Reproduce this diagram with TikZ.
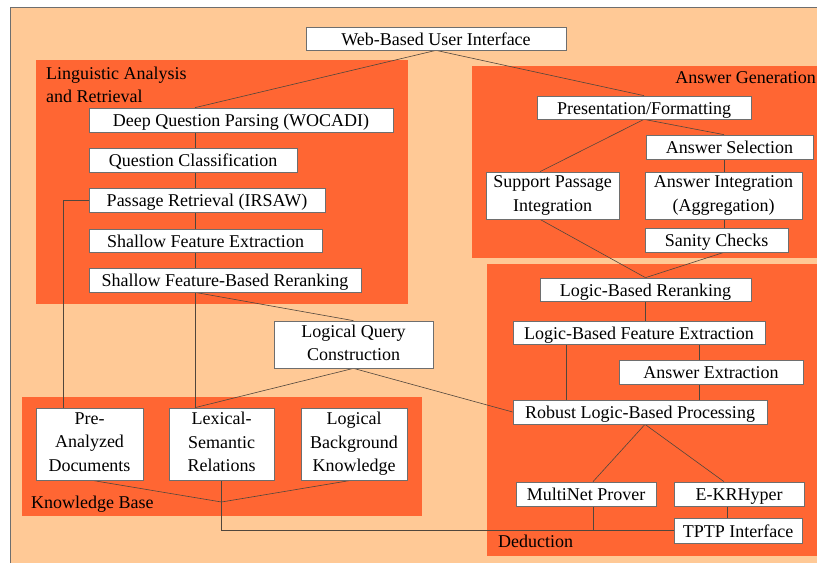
\documentclass[tikz,border=0pt]{standalone}
\usepackage{fontspec}
\setmainfont{Liberation Serif}
\usetikzlibrary{calc}
\definecolor{peach}{RGB}{255,201,150}
\definecolor{orng}{RGB}{255,102,51}
\definecolor{edgec}{RGB}{110,110,110}
\definecolor{wirec}{RGB}{80,70,60}
\pgfdeclarelayer{bg}
\pgfdeclarelayer{wires}
\pgfsetlayers{bg,wires,main}
\begin{document}
\begin{tikzpicture}[x=1pt,y=-1pt,
 box/.style={draw=edgec, line width=0.7pt, fill=white, inner sep=0pt, font=\fontsize{18}{23.5}\selectfont, text height=15pt, text depth=2pt},
 mbox/.style={draw=edgec, line width=0.7pt, fill=white, inner sep=0pt, align=center, font=\fontsize{18}{23.5}\selectfont,
   execute at begin node={\rule{0pt}{17.5pt}}, execute at end node={\rule[-4pt]{0pt}{4pt}}},
 wire/.style={draw=wirec, line width=0.6pt},
 grp/.style={fill=orng},
 glabel/.style={inner sep=0pt, font=\fontsize{18}{23.5}\selectfont, align=left}]
\useasboundingbox (0,0) rectangle (817,563);

\begin{pgfonlayer}{bg}
\fill[peach] (10,7) rectangle (817,563);
\draw[edgec, line width=0.7pt] (10,563) -- (10,7) -- (817,7);
\fill[grp] (36,60) rectangle (408,304);
\fill[grp] (472,66) rectangle (817,258);
\fill[grp] (487,264) rectangle (817,556);
\fill[grp] (22,397) rectangle (422,516);
\end{pgfonlayer}

\node[glabel, anchor=north west] (lglab) at (46,66.5) {Linguistic Analysis\\and Retrieval};
\node[glabel, anchor=base east] (aglab) at (816,83) {Answer Generation};
\node[glabel, anchor=base west] (dedlab) at (498,547) {Deduction};
\node[glabel, anchor=base west] (kblab) at (31,508) {Knowledge Base};

\node[box, minimum width=260pt, minimum height=23pt] (web) at (436,38.5) {Web-Based User Interface};
\node[box, minimum width=304pt, minimum height=24pt] (deep) at (241,120) {Deep Question Parsing (WOCADI)};
\node[box, minimum width=208pt, minimum height=24pt] (qc) at (193,160) {Question Classification};
\node[box, minimum width=236pt, minimum height=24pt] (pr) at (207,200) {Passage Retrieval (IRSAW)};
\node[box, minimum width=233pt, minimum height=23pt] (sfe) at (205.5,240.5) {Shallow Feature Extraction};
\node[box, minimum width=272pt, minimum height=24pt] (sfr) at (225,280) {Shallow Feature-Based Reranking};
\node[mbox, minimum width=159pt, minimum height=47pt] (lqc) at (353.5,344.5) {Logical Query\\Construction};
\node[box, minimum width=214pt, minimum height=23pt] (pf) at (644,107.5) {Presentation/Formatting};
\node[box, minimum width=167pt, minimum height=24pt] (as) at (729.5,147) {Answer Selection};
\node[mbox, minimum width=133pt, minimum height=47pt] (spi) at (552.5,195.5) {Support Passage\\Integration};
\node[mbox, minimum width=157pt, minimum height=47pt] (ai) at (723.5,195.5) {Answer Integration\\(Aggregation)};
\node[box, minimum width=143pt, minimum height=24pt] (sc) at (716.5,240) {Sanity Checks};
\node[box, minimum width=211pt, minimum height=23pt] (lbr) at (645.5,289.5) {Logic-Based Reranking};
\node[box, minimum width=252pt, minimum height=23pt] (lbfe) at (639,332.5) {Logic-Based Feature Extraction};
\node[box, minimum width=184pt, minimum height=24pt] (ae) at (711,372) {Answer Extraction};
\node[box, minimum width=254pt, minimum height=24pt] (rlbp) at (640,412) {Robust Logic-Based Processing};
\node[box, minimum width=140pt, minimum height=24pt] (mnp) at (586,494) {MultiNet Prover};
\node[box, minimum width=130pt, minimum height=24pt] (ekr) at (739,494) {E-KRHyper};
\node[box, minimum width=128pt, minimum height=25pt] (tptp) at (738,530.5) {TPTP Interface};
\node[mbox, minimum width=107pt, minimum height=72pt] (pad) at (89.5,444) {Pre-\\Analyzed\\Documents};
\node[mbox, minimum width=105pt, minimum height=72pt] (lsr) at (221.5,444) {Lexical-\\Semantic\\Relations};
\node[mbox, minimum width=106pt, minimum height=72pt] (lbk) at (354,444) {Logical\\Background\\Knowledge};

\coordinate (x63) at (63,0);
\coordinate (x92) at (92,0);
\coordinate (x195) at (195,0);
\coordinate (x351) at (351,0);
\coordinate (x540) at (540,0);
\coordinate (x566) at (566,0);
\coordinate (x593) at (593,0);
\coordinate (x645) at (645,0);
\coordinate (x699) at (699,0);
\coordinate (x724) at (724,0);
\coordinate (x727) at (727,0);
\coordinate (kbj) at (221.5,502);

\begin{pgfonlayer}{wires}
\draw[wire] (web.south) -- (deep.north -| x195);
\draw[wire] (web.south) -- (pf.north);
\draw[wire] (deep.south -| x195) -- (lsr.north -| x195);
\draw[wire] (pr.west) -- (pr.west -| x63) -- (pad.north -| x63);
\draw[wire] (sfr.south -| x195) -- (lqc.north);
\draw[wire] (lqc.south) -- (lsr.north -| x195);
\draw[wire] (lqc.south) -- (rlbp.west);
\draw[wire] (pf.south) -- (spi.north -| x540);
\draw[wire] (pf.south) -- (as.north -| x724);
\draw[wire] (as.south -| x724) -- (sc.north -| x724);
\draw[wire] (spi.south -| x540) -- (lbr.north);
\draw[wire] (sc.south -| x724) -- (lbr.north);
\draw[wire] (lbr.south) -- (lbfe.north -| lbr.south);
\draw[wire] (lbfe.south -| x566) -- (rlbp.north -| x566);
\draw[wire] (lbfe.south -| x699) -- (rlbp.north -| x699);
\draw[wire] (rlbp.south -| x645) -- (mnp.north -| x593);
\draw[wire] (rlbp.south -| x645) -- (ekr.north -| x724);
\draw[wire] (ekr.south -| x727) -- (tptp.north -| x727);
\draw[wire] (mnp.south -| x593) -- (x593 |- tptp.west);
\draw[wire] (lsr.south) -- (lsr.south |- tptp.west) -- (tptp.west);
\draw[wire] (pad.south -| x92) -- (kbj) -- (lbk.south -| x351);
\end{pgfonlayer}
\end{tikzpicture}
\end{document}
